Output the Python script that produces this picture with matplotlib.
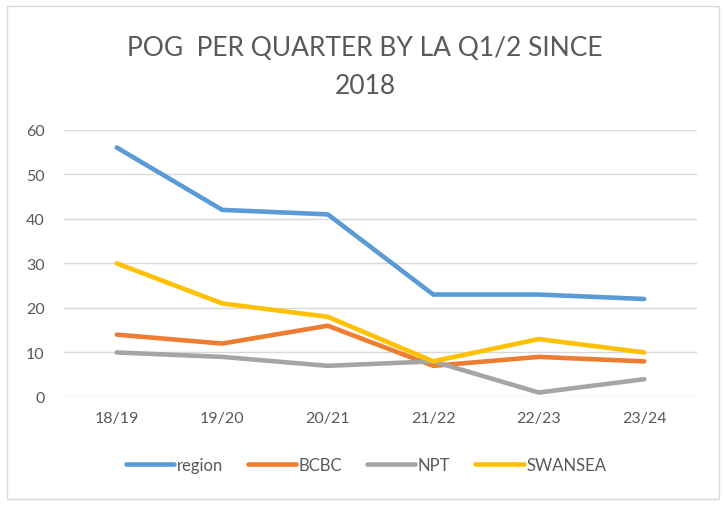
import matplotlib
matplotlib.use("Agg")
import matplotlib.pyplot as plt
from matplotlib.patches import Rectangle

# Données
periodes = ["18/19", "19/20", "20/21", "21/22", "22/23", "23/24"]
region = [56, 42, 41, 23, 23, 22]
bcbc = [14, 12, 16, 7, 9, 8]
npt = [10, 9, 7, 8, 1, 4]
swansea = [30, 21, 18, 8, 13, 10]

plt.rcParams['font.family'] = ['Lato', 'DejaVu Sans']

W, H = 724, 506
fig = plt.figure(figsize=(W / 100, H / 100), dpi=100)
fig.patch.set_facecolor('white')

# cadre du graphique
fig.patches.append(Rectangle((7 / W, 1 - 500 / H), 712 / W, 493 / H,
                             transform=fig.transFigure, fill=False,
                             edgecolor='#D9D9D9', linewidth=1))

ax = fig.add_axes([64 / W, 1 - 398 / H, 633 / W, 267.3 / H])
x = range(len(periodes))
ax.plot(x, region, color='#5B9BD5', lw=3.3, label='region', solid_capstyle='round')
ax.plot(x, bcbc, color='#ED7D31', lw=3.3, label='BCBC', solid_capstyle='round')
ax.plot(x, npt, color='#A5A5A5', lw=3.3, label='NPT', solid_capstyle='round')
ax.plot(x, swansea, color='#FFC000', lw=3.3, label='SWANSEA', solid_capstyle='round')

ax.set_xlim(-0.5, len(periodes) - 0.5)
ax.set_ylim(0, 60)
ax.set_yticks(range(0, 61, 10))
ax.set_xticks(list(x))
ax.set_xticklabels(periodes)
ax.grid(axis='y', color='#D9D9D9', lw=1)
ax.set_axisbelow(True)
for s in ax.spines.values():
    s.set_visible(False)
ax.tick_params(length=0, labelsize=11.5, labelcolor='#595959', pad=10)
ax.tick_params(axis='y', pad=14)

fig.text(365 / W, 1 - 48 / H, "POG  PER QUARTER BY LA Q1/2 SINCE", ha='center', va='center',
         fontsize=19, color='#595959')
fig.text(365 / W, 1 - 86 / H, "2018", ha='center', va='center', fontsize=19, color='#595959')

fig.legend(loc='center', bbox_to_anchor=(366 / W, 1 - 466 / H), ncol=4, frameon=False,
           fontsize=12, labelcolor='#595959', handlelength=2.9, handletextpad=0.15,
           columnspacing=1.5)

fig.savefig('out.png', dpi=100)
